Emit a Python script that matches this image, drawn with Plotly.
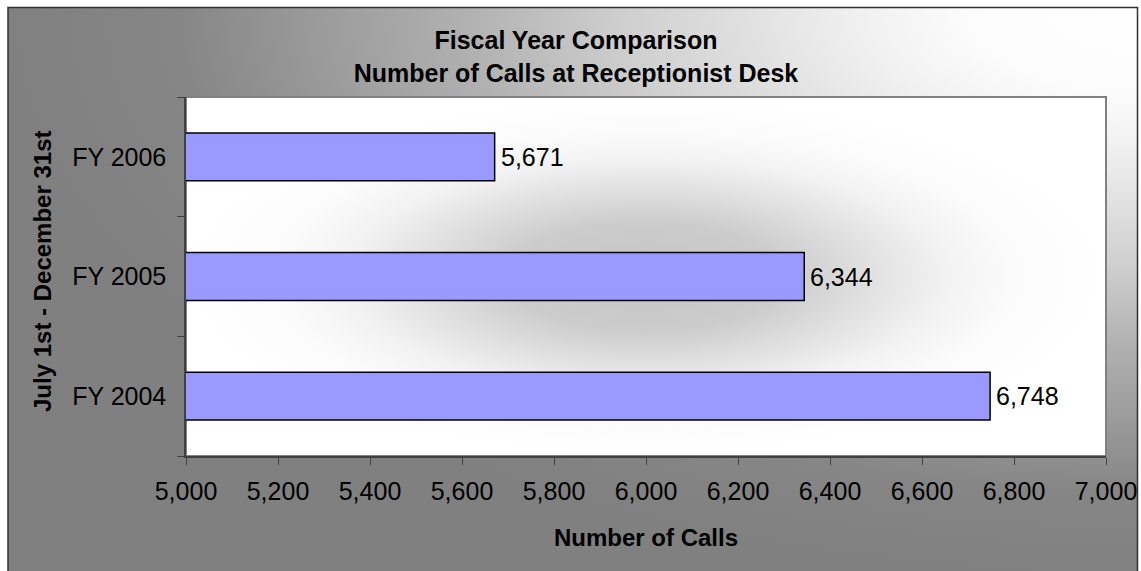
import base64
import plotly.graph_objects as go

# data
years = ["FY 2004", "FY 2005", "FY 2006"]
calls = [6748, 6344, 5671]
x_ticks = [5000, 5200, 5400, 5600, 5800, 6000, 6200, 6400, 6600, 6800, 7000]

FONT = "Liberation Sans, Arial, sans-serif"

# pixel layout of the original chart (1141 x 571)
W, H = 1141, 571
L, R, T, B = 186, 1106, 97, 456


def px_x(px):
    return (px - L) / (R - L)


def px_y(py):
    return (B - py) / (B - T)


def gradient_svg(w, h, cx, cy, r, stops):
    st = "".join('<stop offset="%s" stop-color="%s"/>' % (o, c) for o, c in stops)
    svg = ('<svg xmlns="http://www.w3.org/2000/svg" width="%d" height="%d" '
           'viewBox="0 0 %d %d" preserveAspectRatio="none"><defs>'
           '<radialGradient id="g" cx="%s" cy="%s" r="%s" gradientUnits="objectBoundingBox">%s'
           '</radialGradient></defs><rect width="%d" height="%d" fill="url(#g)"/></svg>'
           % (w, h, w, h, cx, cy, r, st, w, h))
    return "data:image/svg+xml;base64," + base64.b64encode(svg.encode()).decode()


# chart area: light in the top right corner, grey elsewhere
chart_bg = gradient_svg(1130, 568, 1, 0, 1, [
    (0, "#ffffff"), (0.15, "#fcfcfc"), (0.25, "#f0f0f0"), (0.45, "#d0d0d0"),
    (0.6, "#b0b0b0"), (0.72, "#9c9c9c"), (0.85, "#868686"), (1, "#808080")])

# plot area: grey in the middle, white at the edges
plot_bg = gradient_svg(920, 359, 0.5, 0.5, 0.5, [
    (0, "#c4c4c4"), (0.3, "#cccccc"), (0.5, "#e2e2e2"), (0.65, "#f2f2f2"),
    (0.8, "#fbfbfb"), (1, "#ffffff")])

fig = go.Figure()
fig.add_trace(go.Bar(
    y=years, x=calls, orientation="h",
    marker=dict(color="#9999FF", line=dict(color="black", width=1.5)),
    hoverinfo="skip",
))

# value labels next to the bar ends
labels = [dict(x=v, y=c, text="{:,}".format(v), xref="x", yref="y",
               xanchor="left", yanchor="middle", xshift=4, showarrow=False,
               font=dict(family=FONT, size=25, color="black"))
          for c, v in zip(years, calls)]

fig.update_layout(
    width=W, height=H,
    margin=dict(l=L, r=W - R, t=T, b=H - B),
    paper_bgcolor="white", plot_bgcolor="rgba(0,0,0,0)",
    bargap=0.6, showlegend=False,
    font=dict(family=FONT, size=25, color="black"),
    title=dict(text="<b>Fiscal Year Comparison<br>Number of Calls at Receptionist Desk</b>",
               x=576 / W, xanchor="center", y=1 - 49 / H, yanchor="middle",
               font=dict(family=FONT, size=25, color="black")),
    xaxis=dict(range=[5000, 7000], tickvals=x_ticks, tickformat=",d",
               ticks="outside", ticklen=7, tickcolor="#404040", tickwidth=1,
               showline=True, linecolor="#404040", linewidth=2,
               showgrid=False, zeroline=False, tickfont=dict(size=25),
               ticklabelstandoff=5, automargin=False),
    yaxis=dict(type="category", tickson="boundaries",
               ticks="outside", ticklen=7, tickcolor="#404040", tickwidth=1,
               showline=True, linecolor="#404040", linewidth=1.5,
               showgrid=False, zeroline=False, tickfont=dict(size=25),
               ticklabelstandoff=13, automargin=False),
    images=[
        dict(source=chart_bg, xref="paper", yref="paper",
             x=px_x(8), y=px_y(7), sizex=(1138 - 8) / (R - L), sizey=(575 - 7) / (B - T),
             xanchor="left", yanchor="top", sizing="stretch", layer="below"),
        dict(source=plot_bg, xref="paper", yref="paper",
             x=0, y=1, sizex=1, sizey=1,
             xanchor="left", yanchor="top", sizing="stretch", layer="below"),
    ],
    shapes=[
        # chart border
        dict(type="rect", xref="paper", yref="paper",
             x0=px_x(8), x1=px_x(1137.5), y0=px_y(580), y1=px_y(7.5),
             line=dict(color="#303030", width=1.5), layer="below"),
        # plot area border
        dict(type="rect", xref="paper", yref="paper", x0=0, x1=1, y0=0, y1=1,
             line=dict(color="#808080", width=2), layer="below"),
    ],
    annotations=labels + [
        dict(text="<b>Number of Calls</b>", xref="paper", yref="paper",
             x=0.5, y=px_y(537), xanchor="center", yanchor="middle",
             showarrow=False, font=dict(family=FONT, size=24)),
        dict(text="<b>July 1st - December 31st</b>", xref="paper", yref="paper",
             x=px_x(42), y=px_y(272), xanchor="center", yanchor="middle",
             textangle=-90, showarrow=False, font=dict(family=FONT, size=24)),
    ],
)

# page has an 8px body margin by default; drop it so the figure sits at 0,0
fig.write_html("out.html", config={"displayModeBar": False},
               post_script="document.body.style.margin='0';document.body.style.overflow='hidden';")
